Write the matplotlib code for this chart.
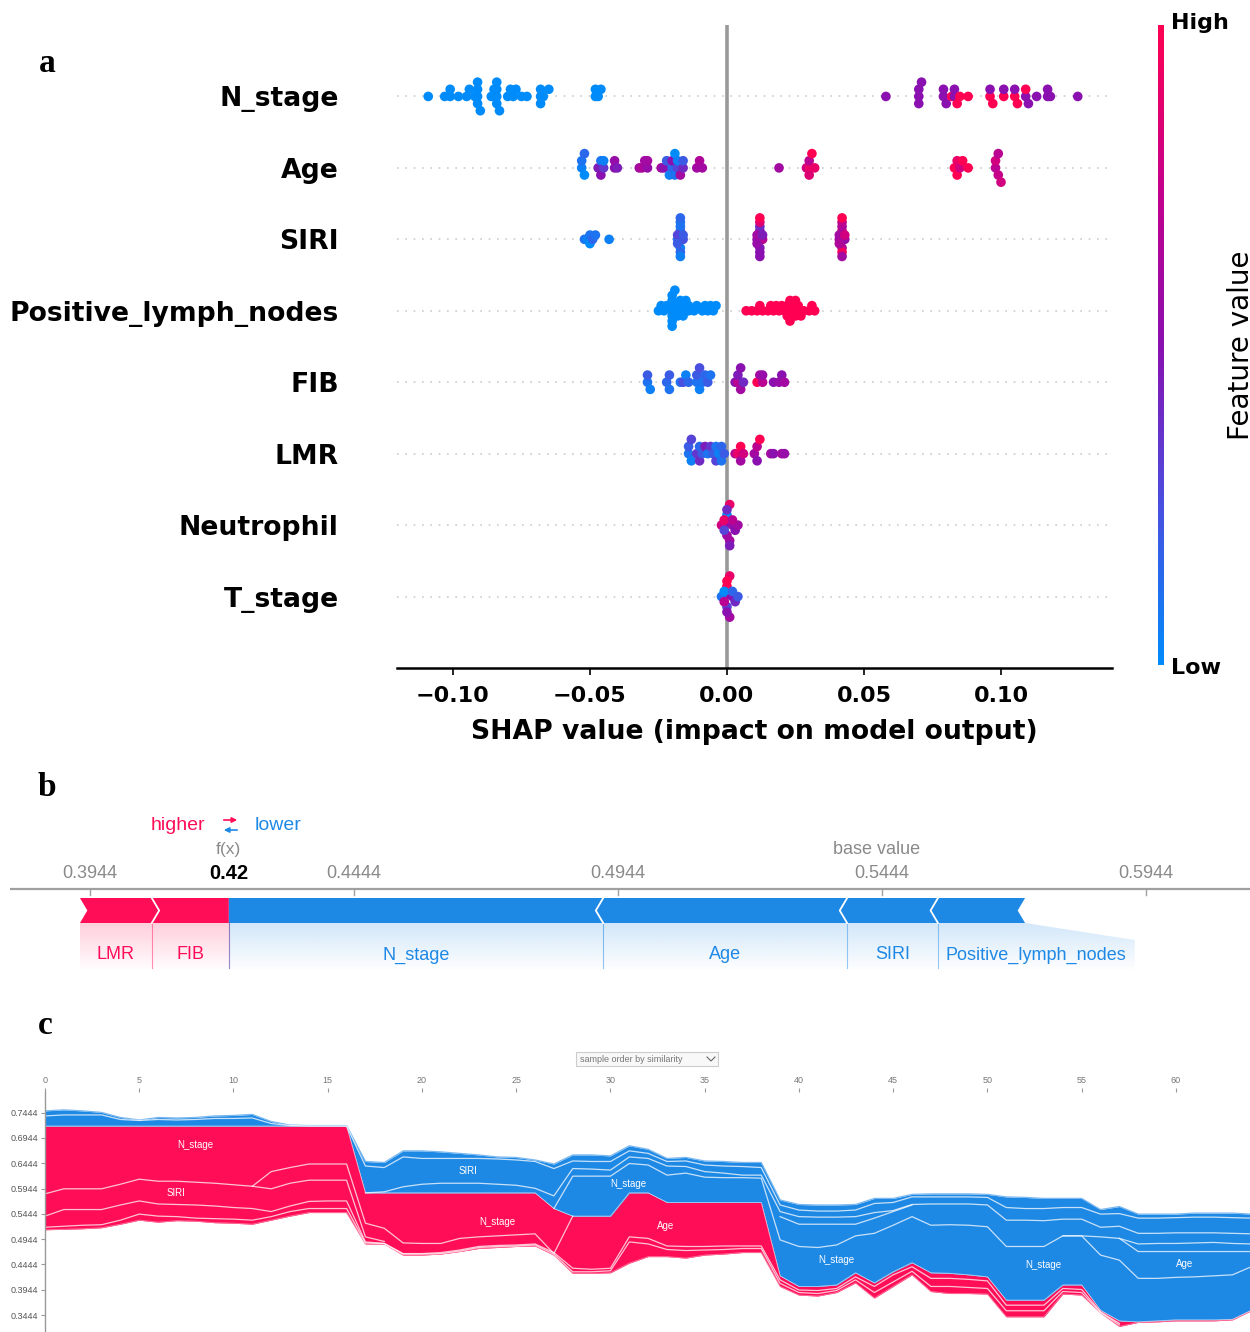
import numpy as np
import matplotlib.pyplot as plt
from matplotlib.colors import LinearSegmentedColormap, to_rgb
from matplotlib.patches import Polygon, Rectangle, FancyArrowPatch
from matplotlib.lines import Line2D

W, H = 1250, 1332
RED = "#ff0d57"
BLUE = "#1e88e5"
nan = np.nan

### ---------------- panel a data (SHAP value, feature value 0..1) ----------------
features = ["N_stage", "Age", "SIRI", "Positive_lymph_nodes", "FIB", "LMR", "Neutrophil", "T_stage"]

shap_nstage = [-0.109, -0.103, -0.101, -0.101, -0.098, -0.095, -0.094, -0.092, -0.091, -0.091, -0.091, -0.091,
               -0.090, -0.086, -0.085, -0.084, -0.084, -0.084, -0.084, -0.083, -0.080, -0.079, -0.078, -0.077,
               -0.075, -0.073, -0.068, -0.068, -0.068, -0.067, -0.065, -0.048, -0.048, -0.047, -0.046,
               0.058, 0.070, 0.070, 0.070, 0.071, 0.079, 0.079, 0.080, 0.082, 0.083, 0.083, 0.084, 0.085, 0.088,
               0.096, 0.096, 0.097, 0.101, 0.101, 0.105, 0.105, 0.106, 0.109, 0.109, 0.110, 0.113, 0.117, 0.117,
               0.118, 0.128]
fval_nstage = [0.0] * 35 + [0.5, 0.5, 0.5, 0.5, 0.5, 0.5, 0.5, 0.5, 1.0, 0.5, 0.5, 1.0, 1.0, 1.0, 1.0, 0.5, 1.0,
                            1.0, 0.5, 1.0, 0.5, 1.0, 0.5, 1.0, 0.5, 0.5, 0.5, 0.5, 0.5, 0.5]

shap_age = [-0.053, -0.053, -0.052, -0.052, -0.047, -0.046, -0.046, -0.045, -0.045, -0.041, -0.041, -0.040,
            -0.032, -0.031, -0.030, -0.029, -0.029, -0.024, -0.023, -0.022, -0.021, -0.020, -0.020, -0.019,
            -0.019, -0.018, -0.018, -0.017, -0.016, -0.016, -0.011, -0.010, -0.009,
            0.019, 0.029, 0.030, 0.030, 0.031, 0.030, 0.032, 0.083, 0.084, 0.084, 0.085, 0.086, 0.088,
            0.098, 0.099, 0.098, 0.099, 0.100]
fval_age = [0.05, 0.1, 0.0, 0.15, 0.45, 0.1, 0.5, 0.35, 0.05, 0.5, 0.55, 0.45, 0.6, 0.65, 0.6, 0.55, 0.6, 0.6,
            0.5, 0.2, 0.05, 0.15, 0.5, 0.1, 0.0, 0.3, 0.05, 0.6, 0.4, 0.2, 0.6, 0.65, 0.6,
            0.6, 0.8, 0.9, 0.7, 1.0, 0.85, 0.9, 1.0, 0.9, 1.0, 0.8, 1.0, 1.0, 0.7, 0.75, 0.8, 0.7, 0.8]

shap_siri = [-0.052, -0.051, -0.050, -0.050, -0.049, -0.048, -0.043,
             -0.018, -0.017, -0.017, -0.016, -0.017, -0.018, -0.017, -0.016, -0.017, -0.017, -0.018, -0.017,
             0.012, 0.011, 0.012, 0.013, 0.012, 0.012, 0.011, 0.012, 0.013, 0.012, 0.012, 0.011,
             0.042, 0.041, 0.042, 0.043, 0.042, 0.042, 0.041, 0.042, 0.043, 0.042, 0.042, 0.041]
fval_siri = [0.1, 0.05, 0.1, 0.0, 0.15, 0.1, 0.05,
             0.1, 0.2, 0.05, 0.25, 0.1, 0.3, 0.15, 0.2, 0.1, 0.05, 0.2, 0.15,
             0.5, 0.55, 0.45, 0.7, 0.4, 0.5, 0.6, 0.85, 0.45, 0.5, 1.0, 0.55,
             0.9, 0.6, 0.7, 0.55, 0.65, 0.95, 0.6, 0.7, 0.8, 0.6, 1.0, 0.65]

shap_pln = [-0.025, -0.024, -0.023, -0.022, -0.020, -0.020, -0.020, -0.020, -0.020, -0.020, -0.020, -0.019,
            -0.018, -0.018, -0.018, -0.017, -0.016, -0.016, -0.016, -0.015, -0.014, -0.014, -0.012, -0.011,
            -0.009, -0.008, -0.007, -0.006, -0.005, -0.004,
            0.007, 0.009, 0.011, 0.012, 0.013, 0.015, 0.016, 0.017, 0.018, 0.019, 0.020, 0.021, 0.022, 0.022,
            0.023, 0.023, 0.024, 0.024, 0.025, 0.025, 0.026, 0.026, 0.027, 0.028, 0.030, 0.031, 0.032]
fval_pln = [0.0] * 30 + [1.0] * 27

shap_fib = [-0.029, -0.029, -0.028, -0.022, -0.021, -0.021, -0.017, -0.016, -0.015, -0.014, -0.011, -0.011,
            -0.010, -0.010, -0.009, -0.008, -0.007, -0.006,
            0.003, 0.004, 0.004, 0.005, 0.006, 0.005, 0.011, 0.012, 0.013, 0.013, 0.017, 0.019, 0.020, 0.021]
fval_fib = [0.1, 0.2, 0.05, 0.15, 0.2, 0.1, 0.1, 0.25, 0.05, 0.15, 0.1, 0.2, 0.05, 0.25, 0.1, 0.15, 0.2, 0.1,
            0.5, 0.7, 0.45, 0.6, 0.4, 0.5, 1.0, 0.6, 0.7, 0.55, 0.5, 0.55, 0.5, 0.6]

shap_lmr = [-0.014, -0.014, -0.013, -0.013, -0.011, -0.010, -0.010, -0.009, -0.008, -0.007, -0.006, -0.005,
            -0.004, -0.004, -0.003, -0.002, -0.002, -0.001,
            0.003, 0.004, 0.005, 0.005, 0.006, 0.010, 0.011, 0.011, 0.012, 0.016, 0.017, 0.020, 0.021]
fval_lmr = [0.1, 0.2, 0.05, 0.3, 0.35, 0.15, 0.4, 0.2, 0.45, 0.1, 0.35, 0.2, 0.1, 0.3, 0.05, 0.15, 0.1, 0.2,
            0.7, 0.9, 1.0, 0.6, 0.8, 0.6, 0.7, 0.5, 1.0, 0.6, 0.5, 0.6, 0.55]

shap_neut = [0.000, -0.001, -0.002, 0.001, 0.002, -0.001, 0.000, 0.003, 0.001, 0.004, -0.001, 0.002, 0.000, 0.001]
fval_neut = [0.0, 0.5, 0.8, 0.6, 0.55, 0.9, 0.6, 0.5, 0.9, 0.6, 0.3, 0.7, 0.4, 0.45]

shap_tstage = [0.000, -0.001, 0.001, -0.002, 0.002, 0.000, 0.003, -0.001, 0.001, 0.000, 0.002, -0.001, 0.000, 0.004]
fval_tstage = [1.0, 0.6, 0.9, 0.1, 0.5, 0.3, 0.4, 0.0, 0.6, 1.0, 0.15, 0.7, 0.5, 0.2]

rows = [(shap_nstage, fval_nstage), (shap_age, fval_age), (shap_siri, fval_siri), (shap_pln, fval_pln),
        (shap_fib, fval_fib), (shap_lmr, fval_lmr), (shap_neut, fval_neut), (shap_tstage, fval_tstage)]
a_ticks = [-0.10, -0.05, 0.00, 0.05, 0.10]

### ---------------- panel b data (force plot) ----------------
b_ticks = [0.3944, 0.4444, 0.4944, 0.5444, 0.5944]
fx_value = 0.4207
red_names = ["LMR", "FIB"]
red_vals = [0.0136, 0.0146]
blue_names = ["N_stage", "Age", "SIRI", "Positive_lymph_nodes"]
blue_vals = [0.0709, 0.0462, 0.0172, 0.0165]
base_value = fx_value - sum(red_vals) + sum(blue_vals)

### ---------------- panel c data (stacked force plot) ----------------
samples = np.arange(65)
c_xticks = list(range(0, 61, 5))
c_yticks = [0.7444, 0.6944, 0.6444, 0.5944, 0.5444, 0.4944, 0.4444, 0.3944, 0.3444]

blue_top = [.748, .750, .748, .745, .735, .730, .735, .734, .735, .738, .739, .741, .727, .720, .719, .719, .719,
            .648, .646, .669, .669, .667, .664, .661, .657, .656, .651, .643, .661, .661, .659, .679, .672, .654,
            .656, .649, .648, .646, .646,
            .572, .563, .562, .562, .563, .575, .575, .583, .584, .584, .584, .583, .578, .577, .575, .575, .575,
            .553, .559, .544, .544, .544, .546, .546, .546, .544]
fx_line = [.718] * 17 + [.586] * 10 + [.555, .540, .540, .540, .586, .586] + [.567] * 6 + \
          [.422, .401, .401, .404, .428, .408, .430, .448, .428, .427, .424, .420, .374, .374, .374, .404, .404,
           .354, .333, .331, .333, .335, .335, .335, .336, .354]
red_bottom = [.513, .514, .515, .517, .524, .532, .528, .531, .530, .527, .526, .524, .532, .540, .547, .547, .547,
              .485, .485, .463, .463, .465, .470, .476, .478, .480, .481, .463, .427, .427, .428, .447, .460, .460,
              .457, .463, .465, .468, .468,
              .401, .384, .382, .389, .408, .378, .401, .424, .391, .387, .387, .386, .341, .341, .341, .386, .384,
              .349, .322, .330, .331, .333, .333, .333, .335, .353]

red_a = [.584, .594, .594, .594, .603, .613, .609, .609, .607, .605, .602, .599, .628, .636, .643, .643, .643,
         .526, .516, .487, .486, .486, .496, .499, .501, .503, .505, .466, .540] + [nan] * 36
red_a2 = [nan] * 11 + [.599, .594, .605, .611, .611, .611, .499, .490] + [nan] * 46
red_b = [.540, .553, .553, .553, .562, .570, .564, .563, .562, .560, .557, .555, .549, .560, .569, .570, .570,
         .489, .486, .466, .466, .468, .473, .480, .482, .483, .485, .468, .437, .435, .437, .499, .496, .481,
         .480, .480, .481, .481, .481,
         .414, .394, .393, .397, .420, .401, .424, .440, .417, .417, .415, .412, .364, .364, .364, .397, .395,
         .351, .328] + [nan] * 7
red_c = [.518, .520, .522, .523, .532, .544, .540, .539, .536, .535, .534, .532, .539, .549, .555, .555, .555,
         .487, .486, .465, .465, .466, .471, .478, .480, .481, .483, .465, .430, .430, .432, .489, .485, .474,
         .472, .473, .474, .476, .476,
         .407, .389, .387, .393, .414, .389, .410, .431, .401, .401, .399, .397, .353, .353, .353, .391, .389,
         .350, .325] + [nan] * 7
blue_1 = [.738, .740, .740, .740, .731, .729, .731, .730, .731, .733, .733, .734, .723, .719, .718, .718, .718,
          .639, .636, .657, .654, .654, .654, .654, .653, .651, .648, .634, .649, .648, .648, .669, .664, .648,
          .649, .641, .639, .638, .636,
          .562, .552, .550, .550, .552, .565, .567, .578, .578, .578, .578, .577, .557, .555, .555, .557, .557,
          .544, .545, .536, .536, .537, .538, .538, .537, .536]
blue_2 = [nan] * 17 + [.586, .588, .598, .603, .605, .605, .605, .603, .601, .595, .580, .634, .633, .631, .657,
                       .654, .639, .638, .628, .625, .621, .621,
                       .549, .539, .538, .538, .539, .547, .551, .563, .564, .564, .564, .562, .532, .532, .531,
                       .534, .534, .518, .520, .506, .506, .507, .507, .507, .506, .505]
blue_n = [nan] * 27 + [.555, .619, .619, .619, .644, .641, .621, .625, .617, .616, .616, .615,
                       .493, .480, .478, .483, .501, .506, .522, .539, .522, .523, .522, .519, .480, .480, .480,
                       .501, .501, .463, .453, .417, .417, .419, .420, .422, .424, .440]
blue_3 = [nan] * 39 + [.539, .524, .524, .524, .524, .536, .549, .562] + [nan] * 7 + \
         [.501, .501, .499, .496, .485, .486, .486, .487, .488, .486, .485]
blue_4 = [nan] * 57 + [.496, .470, .470, .470, .470, .470, .470, .470]

c_labels = ["N_stage", "SIRI", "SIRI", "N_stage", "N_stage", "Age", "N_stage", "N_stage", "Age"]
c_label_x = [8.0, 6.95, 22.44, 23.98, 30.93, 32.94, 41.96, 52.94, 60.48]
c_label_y = [0.681, 0.586, 0.629, 0.528, 0.604, 0.521, 0.453, 0.443, 0.445]

for arr in [blue_top, fx_line, red_bottom, red_a, red_a2, red_b, red_c, blue_1, blue_2, blue_n, blue_3, blue_4]:
    assert len(arr) == 65, len(arr)


def fxp(px):
    return px / W


def fyp(py):
    return 1 - py / H


def swarm(vals, width=0.0022, step=0.1, max_half=0.36):
    vals = np.asarray(vals)
    order = np.argsort(vals, kind="stable")
    bins = np.round(vals / width).astype(int)
    ys = np.zeros(len(vals))
    layer, last = 0, None
    for i in order:
        if bins[i] != last:
            layer = 0
        ys[i] = np.ceil(layer / 2) * ((layer % 2) * 2 - 1)
        layer += 1
        last = bins[i]
    scale = min(step, max_half / (np.abs(ys).max() + 1))
    return ys * scale


fig = plt.figure(figsize=(W / 100, H / 100), dpi=100)
cmap = LinearSegmentedColormap.from_list(
    "shap_rb", ["#008bfb", "#4a4fe0", "#8a10b0", "#c6008a", "#ff0052"])

### ---------------- a ----------------
ax = fig.add_axes([fxp(397), fyp(668), 715 / W, 643 / H])
n = len(features)
for i, (sv, fv) in enumerate(rows):
    pos = n - 1 - i
    ax.axhline(pos, color="#cccccc", lw=1.2, dashes=(1, 4), zorder=-1)
    ax.scatter(sv, pos + swarm(sv), c=fv, cmap=cmap, vmin=0, vmax=1, s=48, linewidths=0, zorder=3)
ax.axvline(0, color="#999999", lw=2.6, zorder=1)
ax.set_xlim(-0.1204, 0.1405)
ax.set_ylim(-1, n)
ax.set_yticks(range(n))
ax.set_yticklabels(features[::-1], fontsize=19.2, fontweight="bold")
ax.tick_params(axis="y", length=0, pad=42)
ax.set_xticks(a_ticks)
ax.set_xticklabels([f"{t:.2f}".replace("-", "\u2212") for t in a_ticks], fontsize=16, fontweight="bold")
ax.tick_params(axis="x", length=5, width=1.2, pad=8)
ax.set_xlabel("SHAP value (impact on model output)", fontsize=19.2, fontweight="bold", labelpad=9)
for s in ["top", "left", "right"]:
    ax.spines[s].set_visible(False)
ax.spines["bottom"].set_linewidth(1.8)

cax = fig.add_axes([fxp(1158), fyp(665), 6 / W, 640 / H])
cax.imshow(np.linspace(0, 1, 256)[:, None], aspect="auto", cmap=cmap, origin="lower")
cax.axis("off")
fig.text(fxp(1200), fyp(23), "High", ha="center", va="center", fontsize=16, fontweight="bold")
fig.text(fxp(1196), fyp(668), "Low", ha="center", va="center", fontsize=16, fontweight="bold")
fig.text(fxp(1241), fyp(345), "Feature value", rotation=90, ha="center", va="center", fontsize=20)

### ---------------- b ----------------
SANS = "Liberation Sans"
axb = fig.add_axes([fxp(10), fyp(990), 1240 / W, 200 / H])
xl = (0.37925, 0.6141)
axb.axis("off")
AX_Y, BAR_T, BAR_B, LAB_B = 889, 898, 923, 972
mid = (BAR_T + BAR_B) / 2
tip = 0.0014
axb.plot(xl, [AX_Y, AX_Y], color="#a0a0a0", lw=1.6)
for t in b_ticks:
    axb.plot([t, t], [AX_Y, AX_Y + 6], color="#a0a0a0", lw=1)
    axb.text(t, 874, f"{t:.4f}", ha="center", va="center", fontsize=13, color="#8a8a8a", family=SANS)
axb.text(fx_value, 874, f"{fx_value:.2f}", ha="center", va="center", fontsize=14.5, fontweight="bold",
         color="black", family=SANS)
axb.text(fx_value, 850, "f(x)", ha="center", va="center", fontsize=12.5, color="#8a8a8a", family=SANS)
axb.text(base_value, 850, "base value", ha="center", va="center", fontsize=13, color="#8a8a8a", family=SANS)


def grad(x0, x1, color, clip=None):
    img = np.zeros((64, 2, 4))
    img[..., :3] = to_rgb(color)
    img[..., 3] = np.linspace(0.2, 0.0, 64)[:, None]
    im = axb.imshow(img, extent=(x0, x1, LAB_B, BAR_B), aspect="auto", interpolation="bilinear", zorder=1)
    if clip is not None:
        im.set_clip_path(clip)


renderer = fig.canvas.get_renderer()
px_per_unit = axb.get_window_extent().width / (xl[1] - xl[0])

left = fx_value - sum(red_vals)
x0 = left
for k, (name, v) in enumerate(zip(red_names, red_vals)):
    x1 = x0 + v
    last = k == len(red_vals) - 1
    pts = [(x0, BAR_T), (x1, BAR_T), (x1 + (0 if last else tip), mid), (x1, BAR_B), (x0, BAR_B), (x0 + tip, mid)]
    axb.add_patch(Polygon(pts, closed=True, fc=RED, ec="none", zorder=3))
    if not last:
        axb.plot([x1, x1 + tip, x1], [BAR_T, mid, BAR_B], color="white", lw=1.3, zorder=4)
    grad(x0, x1, RED)
    axb.plot([x1, x1], [BAR_B, LAB_B - 4], color=RED, lw=0.8, alpha=0.45, zorder=2)
    axb.text((x0 + x1) / 2, 955, name, ha="center", va="center", fontsize=13, color=RED, family=SANS)
    x0 = x1

x0 = fx_value
for k, (name, v) in enumerate(zip(blue_names, blue_vals)):
    x1 = x0 + v
    pts = [(x0, BAR_T), (x1, BAR_T), (x1 - tip, mid), (x1, BAR_B), (x0, BAR_B), (x0 - (tip if k else 0), mid)]
    axb.add_patch(Polygon(pts, closed=True, fc=BLUE, ec="none", zorder=3))
    if k:
        axb.plot([x0, x0 - tip, x0], [BAR_T, mid, BAR_B], color="white", lw=1.3, zorder=4)
    axb.plot([x0, x0], [BAR_B, LAB_B - 4], color=BLUE, lw=0.8, alpha=0.45, zorder=2)
    t = axb.text((x0 + x1) / 2, 955, name, ha="center", va="center", fontsize=13, color=BLUE, family=SANS)
    tw = t.get_window_extent(renderer=renderer).width / px_per_unit
    pad = 8 / px_per_unit
    if tw + 2 * pad > v:
        xr = x0 + tw + 2 * pad
        t.set_x(x0 + pad)
        t.set_ha("left")
        clip = Polygon([(x0, BAR_B), (x1, BAR_B), (xr, BAR_B + 17), (xr, LAB_B), (x0, LAB_B)],
                       closed=True, transform=axb.transData)
        grad(x0, xr, BLUE, clip)
    else:
        grad(x0, x1, BLUE)
    x0 = x1
axb.set_xlim(*xl)
axb.set_ylim(990, 790)

fig.text(fxp(205), fyp(825), "higher", ha="right", va="center", fontsize=14, color=RED, family=SANS)
fig.text(fxp(255), fyp(825), "lower", ha="left", va="center", fontsize=14, color=BLUE, family=SANS)
fig.add_artist(FancyArrowPatch((fxp(221), fyp(820)), (fxp(240), fyp(820)), transform=fig.transFigure,
                               arrowstyle="-|>,head_length=3,head_width=1.5", color=RED, lw=1.2))
fig.add_artist(FancyArrowPatch((fxp(240), fyp(830)), (fxp(221), fyp(830)), transform=fig.transFigure,
                               arrowstyle="-|>,head_length=3,head_width=1.5", color=BLUE, lw=1.2))

### ---------------- c ----------------
axc = fig.add_axes([fxp(45), 0, (W - 45) / W, (H - 1092) / H])
axc.fill_between(samples, red_bottom, fx_line, color=RED, lw=0)
axc.fill_between(samples, fx_line, blue_top, color=BLUE, lw=0)
axc.plot(samples, blue_top, color="#7ab8ef", lw=0.9)
axc.plot(samples, red_bottom, color="#ff6f98", lw=0.7)
for arr in [red_a, red_a2, red_b, red_c, blue_1, blue_2, blue_n, blue_3, blue_4]:
    axc.plot(samples, arr, color="white", lw=0.9, alpha=0.75)
axc.plot(samples, fx_line, color="white", lw=0.6, alpha=0.6)
for name, sx, sy in zip(c_labels, c_label_x, c_label_y):
    axc.text(sx, sy, name, ha="center", va="center", fontsize=7, color="white", family=SANS)
axc.set_xlim(0, 63.93)
axc.set_ylim(0.3110, 0.7853)
axc.xaxis.tick_top()
axc.set_xticks(c_xticks)
axc.set_xticklabels([str(t) for t in c_xticks], fontsize=6.5, color="#777777", family=SANS)
axc.set_yticks(c_yticks)
axc.set_yticklabels([f"{t:.4f}" for t in c_yticks], fontsize=6.5, color="#555555", family=SANS)
axc.tick_params(axis="both", length=3, width=0.8, color="#999999", pad=2)
for s in ["top", "right", "bottom"]:
    axc.spines[s].set_visible(False)
axc.spines["left"].set_color("#999999")
axc.spines["left"].set_linewidth(1)

fig.patches.append(Rectangle((fxp(576), fyp(1066)), 142 / W, 14 / H, transform=fig.transFigure,
                             fc="#f8f8f8", ec="#cccccc", lw=0.8))
fig.text(fxp(580), fyp(1059), "sample order by similarity", ha="left", va="center", fontsize=6.5,
         color="#777777", family=SANS)
fig.lines.append(Line2D([fxp(707), fxp(711), fxp(715)], [fyp(1057), fyp(1061), fyp(1057)],
                        transform=fig.transFigure, color="#666666", lw=0.8))

### panel letters
for letter, px, py in [("a", 47, 63), ("b", 47, 787), ("c", 45, 1025)]:
    fig.text(fxp(px), fyp(py), letter, ha="center", va="center", fontsize=24, fontweight="bold",
             family="Liberation Serif")

fig.savefig("out.png", dpi=100)
